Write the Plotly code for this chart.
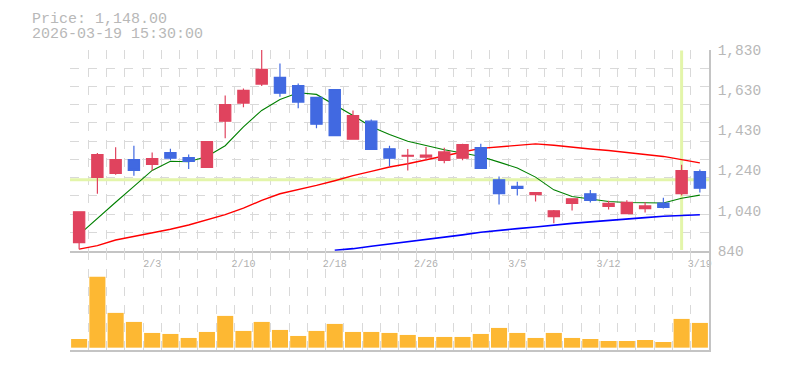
import plotly.graph_objects as go

# ---- data ----
dates = ["1/28", "1/29", "1/30", "2/2", "2/3", "2/4", "2/5", "2/6", "2/9", "2/10",
         "2/12", "2/13", "2/16", "2/17", "2/18", "2/19", "2/20", "2/24", "2/25", "2/26",
         "2/27", "3/2", "3/3", "3/4", "3/5", "3/6", "3/9", "3/10", "3/11", "3/12",
         "3/13", "3/16", "3/17", "3/18", "3/19"]

opens = [880, 1202, 1221, 1289, 1266, 1324, 1299, 1251, 1479, 1568,
         1662, 1695, 1655, 1596, 1635, 1390, 1479, 1343, 1306, 1302,
         1286, 1296, 1348, 1190, 1157, 1116, 1008, 1073, 1121, 1058,
         1023, 1048, 1075, 1122, 1230]
highs = [1032, 1322, 1350, 1358, 1325, 1343, 1314, 1378, 1606, 1640,
         1836, 1764, 1665, 1596, 1635, 1532, 1487, 1358, 1342, 1352,
         1348, 1368, 1367, 1206, 1180, 1126, 1041, 1099, 1140, 1086,
         1089, 1079, 1101, 1264, 1240]
lows = [847, 1121, 1215, 1210, 1236, 1286, 1243, 1251, 1395, 1548,
        1652, 1599, 1543, 1444, 1405, 1390, 1340, 1256, 1236, 1286,
        1271, 1286, 1246, 1068, 1112, 1083, 975, 1038, 1078, 1043,
        1023, 1028, 1048, 1112, 1127]
closes = [1032, 1314, 1289, 1236, 1294, 1296, 1281, 1378, 1561, 1631,
          1734, 1617, 1573, 1464, 1408, 1507, 1340, 1296, 1310, 1312,
          1327, 1363, 1246, 1122, 1147, 1126, 1037, 1096, 1088, 1073,
          1079, 1061, 1053, 1235, 1148]

ma5 = [919, 1000, 1079, 1157, 1236, 1281, 1279, 1305, 1358, 1451,
       1532, 1586, 1619, 1611, 1560, 1507, 1451, 1413, 1380, 1358,
       1338, 1322, 1305, 1277, 1248, 1203, 1140, 1107, 1096, 1083,
       1078, 1076, 1075, 1099, 1114]
ma25 = [848, 865, 893, 910, 926, 946, 967, 992, 1018, 1050,
        1088, 1121, 1140, 1162, 1185, 1210, 1231, 1253, 1269, 1289,
        1306, 1327, 1345, 1352, 1362, 1367, 1360, 1350, 1342, 1334,
        1325, 1317, 1305, 1289, 1273]
ma75 = [None] * 14 + [842, 850, 862, 873, 883, 893, 905, 918, 931, 941,
                      949, 957, 967, 975, 982, 990, 997, 1003, 1010, 1013, 1017]

volume = [26000, 212000, 104000, 77000, 44000, 41000, 29000, 47000, 95000, 50000,
          77000, 53000, 35000, 50000, 71000, 47000, 47000, 44000, 38000, 32000,
          32000, 32000, 41000, 59000, 44000, 29000, 44000, 29000, 26000, 20000,
          20000, 23000, 17000, 86000, 74000]

x_tick_labels = ["2/3", "2/10", "2/18", "2/26", "3/5", "3/12", "3/19"]
price_tick_vals = [840, 1038, 1236, 1434, 1632, 1830]
price_tick_text = ["840", "1,040", "1,240", "1,430", "1,630", "1,830"]

cross_date = "3/18"
cross_price = 1190
info_price = "Price: 1,148.00"
info_time = "2026-03-19 15:30:00"

# ---- styling ----
UP = "#E0435E"
DOWN = "#4169E1"
VOL = "#FDB833"
GRID = "#d9d9d9"
AXIS = "#c4c4c4"
TXT = "#b8b8b8"
CROSS = "#e3f5aa"
FONT = "Liberation Mono"

# the page body has an 8px margin; the figure is sized/offset to compensate
PAGE_OFF = 8

xs = list(range(len(dates)))
x_min, x_max = -0.5, len(dates) - 0.5
y_min, y_max = price_tick_vals[0], price_tick_vals[-1]
grid_step = (y_max - y_min) / 11
ci = dates.index(cross_date)

fig = go.Figure()

# crosshair (under everything but the grid)
fig.add_trace(go.Scatter(x=[x_min, x_max], y=[cross_price, cross_price], mode="lines",
                         line=dict(color=CROSS, width=3), xaxis="x", yaxis="y",
                         hoverinfo="skip", cliponaxis=True))
fig.add_trace(go.Scatter(x=[ci, ci], y=[y_min + 4, y_max - 3], mode="lines",
                         line=dict(color=CROSS, width=3), xaxis="x", yaxis="y",
                         hoverinfo="skip", cliponaxis=True))

# moving averages
fig.add_trace(go.Scatter(x=xs, y=ma75, mode="lines", line=dict(color="#0000ff", width=1.6),
                         xaxis="x", yaxis="y", hoverinfo="skip"))
fig.add_trace(go.Scatter(x=xs, y=ma25, mode="lines", line=dict(color="#ff0000", width=1.4),
                         xaxis="x", yaxis="y", hoverinfo="skip"))
fig.add_trace(go.Scatter(x=xs, y=ma5, mode="lines", line=dict(color="#008000", width=1.1),
                         xaxis="x", yaxis="y", hoverinfo="skip"))

# candles on an overlay subplot so they sit on top of the lines
fig.add_trace(go.Candlestick(
    x=xs, open=opens, high=highs, low=lows, close=closes,
    increasing=dict(line=dict(color=UP, width=1.2), fillcolor=UP),
    decreasing=dict(line=dict(color=DOWN, width=1.2), fillcolor=DOWN),
    whiskerwidth=0, xaxis="x3", yaxis="y3", hoverinfo="skip"))

fig.add_trace(go.Bar(x=xs, y=volume, marker=dict(color=VOL, line=dict(width=0)),
                     xaxis="x2", yaxis="y2", hoverinfo="skip"))

x_minor = dict(tickmode="array", tickvals=[i - 0.5 for i in range(len(dates) + 1)],
               showgrid=True, gridcolor=GRID, griddash="dash", gridwidth=1, ticks="")
y_minor = dict(tickmode="array", tickvals=[y_min + grid_step * k for k in range(12)],
               showgrid=True, gridcolor=GRID, griddash="dash", gridwidth=1, ticks="")

price_dom = [0.331, 1.0]
vol_dom = [0.0, 0.331]

hidden = dict(showticklabels=False, ticks="", showgrid=False, zeroline=False, showline=False)

fig.update_layout(
    width=785 - PAGE_OFF, height=370 - PAGE_OFF,
    margin=dict(l=70 - PAGE_OFF, r=76, t=50 - PAGE_OFF, b=20, autoexpand=False),
    paper_bgcolor="white", plot_bgcolor="white",
    showlegend=False,
    bargap=0.12, boxgap=0.12,
    hovermode=False,
    font=dict(family=FONT, color=TXT),
    xaxis=dict(domain=[0, 1], anchor="y", range=[x_min, x_max],
               tickmode="array", tickvals=[dates.index(t) for t in x_tick_labels],
               ticktext=x_tick_labels, tickfont=dict(family=FONT, size=10, color="#b0b0b0"),
               ticks="", ticklabelstandoff=3,
               showgrid=False, zeroline=False, minor=x_minor,
               showline=True, linecolor=AXIS, linewidth=1.5,
               rangeslider=dict(visible=False)),
    xaxis2=dict(domain=[0, 1], anchor="y2", range=[x_min, x_max], matches="x",
                showticklabels=False, ticks="", showgrid=False, zeroline=False, minor=x_minor,
                showline=True, linecolor=AXIS, linewidth=1.5),
    xaxis3=dict(overlaying="x", anchor="y3", range=[x_min, x_max], matches="x",
                rangeslider=dict(visible=False), **hidden),
    yaxis=dict(domain=price_dom, anchor="x", side="right", range=[y_min, y_max],
               tickmode="array", tickvals=price_tick_vals, ticktext=price_tick_text,
               tickfont=dict(family=FONT, size=14.5, color=TXT), ticks="",
               ticklabelstandoff=4,
               showgrid=False, zeroline=False, minor=y_minor,
               showline=True, linecolor=AXIS, linewidth=1.5),
    yaxis2=dict(domain=vol_dom, anchor="x2", side="right", range=[-7000, 290000],
                showticklabels=False, ticks="", showgrid=False, zeroline=False,
                showline=True, linecolor=AXIS, linewidth=1.5),
    yaxis3=dict(overlaying="y", anchor="x3", side="right", range=[y_min, y_max],
                matches="y", **hidden),
)

fig.add_annotation(text=info_price, xref="paper", yref="paper", x=-0.0626, y=1.1,
                   xanchor="left", yanchor="middle", showarrow=False,
                   font=dict(family=FONT, size=15, color=TXT))
fig.add_annotation(text=info_time, xref="paper", yref="paper", x=-0.0626, y=1.05,
                   xanchor="left", yanchor="middle", showarrow=False,
                   font=dict(family=FONT, size=15, color=TXT))

fig.write_html("out.html")
